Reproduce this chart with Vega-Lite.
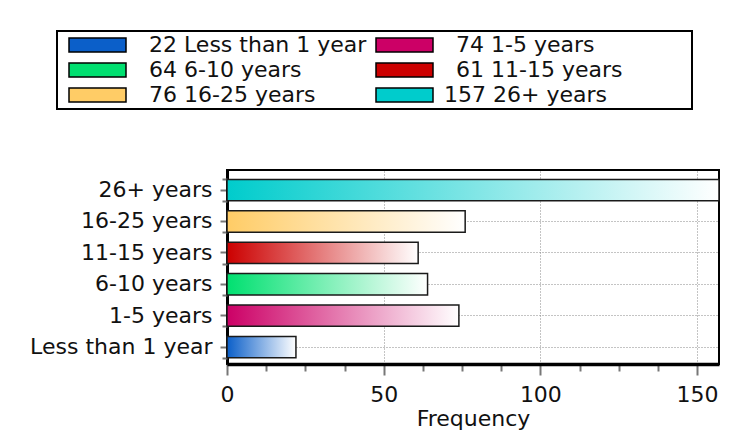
{
  "$schema": "https://vega.github.io/schema/vega-lite/v6.json",
  "width": 492,
  "height": 194,
  "autosize": {"type": "none"},
  "padding": {"left": 227, "top": 170, "right": 19, "bottom": 84},
  "background": "white",
  "data": {
    "values": [
      {"cat": "Less than 1 year", "count": 22, "legend": "22 Less than 1 year"},
      {"cat": "1-5 years", "count": 74, "legend": "74 1-5 years"},
      {"cat": "6-10 years", "count": 64, "legend": "64 6-10 years"},
      {"cat": "11-15 years", "count": 61, "legend": "61 11-15 years"},
      {"cat": "16-25 years", "count": 76, "legend": "76 16-25 years"},
      {"cat": "26+ years", "count": 157, "legend": "157 26+ years"}
    ]
  },
  "encoding": {
    "y": {
      "field": "cat",
      "type": "nominal",
      "sort": ["26+ years", "16-25 years", "11-15 years", "6-10 years", "1-5 years", "Less than 1 year"],
      "scale": {"paddingInner": 0.32, "paddingOuter": 0.25, "align": 0.6},
      "axis": {
        "orient": "left",
        "title": null,
        "labelFont": "DejaVu Sans",
        "labelFontSize": 22,
        "labelColor": "#111111",
        "labelPadding": 8,
        "labelLimit": 300,
        "tickSize": 7,
        "tickWidth": 2,
        "tickColor": "#777777",
        "domainColor": "#000000",
        "domainWidth": 3,
        "grid": true,
        "gridColor": "#888888",
        "gridDash": [1, 2],
        "gridWidth": 1
      }
    },
    "x": {
      "field": "count",
      "type": "quantitative",
      "scale": {"domain": [0, 157], "nice": false, "zero": true},
      "axis": {
        "title": "Frequency",
        "titleFont": "DejaVu Sans",
        "titleFontSize": 22,
        "titleFontWeight": "normal",
        "titleColor": "#111111",
        "titlePadding": 3,
        "values": [0, 12.5, 25, 37.5, 50, 62.5, 75, 87.5, 100, 112.5, 125, 137.5, 150],
        "labelExpr": "datum.value % 50 === 0 ? datum.label : ''",
        "labelOverlap": false,
        "labelFlush": false,
        "labelFont": "DejaVu Sans",
        "labelFontSize": 22,
        "labelColor": "#111111",
        "labelPadding": 9,
        "tickSize": {"condition": {"test": "datum.value % 50 === 0", "value": 11}, "value": 7},
        "tickWidth": 2,
        "tickColor": "#777777",
        "domainColor": "#000000",
        "domainWidth": 3.5,
        "grid": true,
        "gridColor": "#888888",
        "gridDash": [1, 2],
        "gridWidth": 1,
        "gridOpacity": {"condition": {"test": "datum.value % 50 === 0", "value": 1}, "value": 0}
      }
    }
  },
  "layer": [
    {
      "mark": {"type": "bar", "stroke": "#1a1a1a", "strokeWidth": 1.5},
      "encoding": {
        "fill": {
          "condition": [
            {"test": "datum.cat === 'Less than 1 year'", "value": {"gradient": "linear", "x1": 0, "y1": 0, "x2": 1, "y2": 0, "stops": [{"offset": 0, "color": "#0b5fc9"}, {"offset": 1, "color": "#ffffff"}]}},
            {"test": "datum.cat === '1-5 years'", "value": {"gradient": "linear", "x1": 0, "y1": 0, "x2": 1, "y2": 0, "stops": [{"offset": 0, "color": "#cc0066"}, {"offset": 1, "color": "#ffffff"}]}},
            {"test": "datum.cat === '6-10 years'", "value": {"gradient": "linear", "x1": 0, "y1": 0, "x2": 1, "y2": 0, "stops": [{"offset": 0, "color": "#00e070"}, {"offset": 1, "color": "#ffffff"}]}},
            {"test": "datum.cat === '11-15 years'", "value": {"gradient": "linear", "x1": 0, "y1": 0, "x2": 1, "y2": 0, "stops": [{"offset": 0, "color": "#cc0000"}, {"offset": 1, "color": "#ffffff"}]}},
            {"test": "datum.cat === '16-25 years'", "value": {"gradient": "linear", "x1": 0, "y1": 0, "x2": 1, "y2": 0, "stops": [{"offset": 0, "color": "#ffcc66"}, {"offset": 1, "color": "#ffffff"}]}}
          ],
          "value": {"gradient": "linear", "x1": 0, "y1": 0, "x2": 1, "y2": 0, "stops": [{"offset": 0, "color": "#00cccc"}, {"offset": 1, "color": "#ffffff"}]}
        }
      }
    },
    {
      "mark": {"type": "bar", "opacity": 0},
      "encoding": {
        "y": {
          "field": "cat",
          "type": "nominal",
          "sort": ["26+ years", "16-25 years", "11-15 years", "6-10 years", "1-5 years", "Less than 1 year"],
          "axis": {
            "orient": "left",
            "title": null,
            "labels": false,
            "domain": false,
            "grid": false,
            "tickBand": "extent",
            "tickSize": 5,
            "tickWidth": 2,
            "tickColor": "#777777"
          }
        },
        "color": {
          "field": "legend",
          "type": "nominal",
          "scale": {
            "domain": ["22 Less than 1 year", "64 6-10 years", "76 16-25 years", "74 1-5 years", "61 11-15 years", "157 26+ years"],
            "range": ["#0b5fc9", "#00e070", "#ffcc66", "#cc0066", "#cc0000", "#00cccc"]
          },
          "legend": {
            "title": "\u00a0",
            "titleOrient": "right",
            "titlePadding": 67,
            "titleFontSize": 10,
            "orient": "none",
            "legendX": -170,
            "legendY": -139,
            "columns": 2,
            "columnPadding": -2,
            "rowPadding": 3,
            "padding": 3,
            "symbolOffset": 5,
            "symbolType": "M-1,-1H7.143V1H-1Z",
            "symbolSize": 196,
            "symbolStrokeColor": "#000000",
            "symbolStrokeWidth": 1.5,
            "symbolOpacity": 1,
            "labelFont": "DejaVu Sans",
            "labelFontSize": 22,
            "labelColor": "#111111",
            "labelOffset": 50,
            "labelLimit": 500,
            "fillColor": "#ffffff",
            "strokeColor": "#000000",
            "encode": {
              "legend": {"update": {"strokeWidth": {"value": 2}}},
              "labels": {"update": {"dx": {"signal": "length(split(datum.label, ' ')[0]) < 3 ? 12 : 0"}}}
            }
          }
        }
      }
    }
  ],
  "resolve": {"axis": {"y": "independent"}},
  "config": {
    "view": {"stroke": "#000000", "strokeWidth": 2}
  }
}
